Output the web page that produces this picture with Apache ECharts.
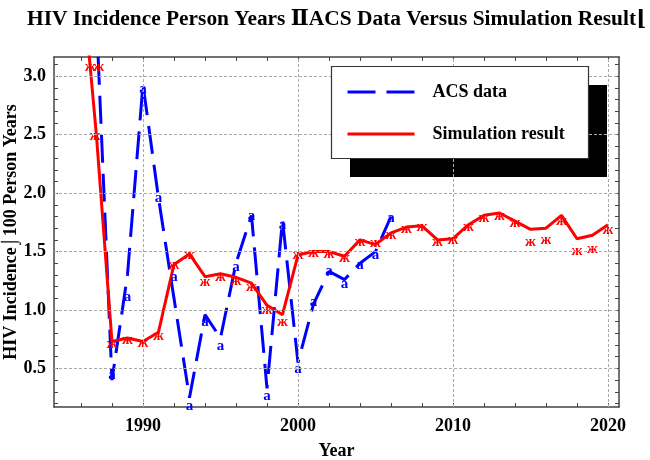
<!DOCTYPE html>
<html>
<head>
<meta charset="utf-8">
<script src="https://cdn.jsdelivr.net/npm/echarts@6/dist/echarts.min.js"></script>
<style>
  html, body { margin: 0; padding: 0; background: #fff; }
  #chart { width: 650px; height: 460px; }
</style>
</head>
<body>
<div id="chart"></div>
<script>
// ACS data (dashed blue line, points per year; 1987 lies above the plot range)
const acsYears = [1987, 1988, 1989, 1990, 1991, 1992, 1993, 1994, 1995, 1996, 1997, 1998, 1999, 2000, 2001, 2002, 2003, 2004, 2005, 2006];
const acsLine = [3.5, 0.40, 1.30, 2.93, 1.96, 1.10, 0.25, 0.96, 0.76, 1.40, 1.81, 0.33, 1.77, 0.55, 1.05, 1.33, 1.26, 1.40, 1.50, 1.80];

// "a" markers of the ACS data
const acsMarkYears = [1988, 1989, 1990, 1991, 1992, 1993, 1994, 1995, 1996, 1997, 1998, 1999, 2000, 2001, 2002, 2003, 2004, 2005, 2006];
const acsMarkValues = [0.44, 1.11, 2.89, 1.96, 1.285, 0.18, 0.90, 0.69, 1.37, 1.80, 0.26, 1.73, 0.49, 1.07, 1.33, 1.22, 1.385, 1.47, 1.79];

// simulation result (red line)
const simYears = [1986, 1987, 1988, 1989, 1990, 1991, 1992, 1993, 1994, 1995, 1996, 1997, 1998, 1999, 2000, 2001, 2002, 2003, 2004, 2005, 2006, 2007, 2008, 2009, 2010, 2011, 2012, 2013, 2014, 2015, 2016, 2017, 2018, 2019, 2020];
const simLine = [3.95, 2.49, 0.73, 0.76, 0.73, 0.81, 1.39, 1.48, 1.285, 1.31, 1.28, 1.23, 1.04, 0.96, 1.47, 1.50, 1.50, 1.46, 1.60, 1.56, 1.66, 1.71, 1.72, 1.60, 1.61, 1.73, 1.81, 1.83, 1.76, 1.69, 1.70, 1.81, 1.61, 1.64, 1.73];

// "ж" markers of the simulation
const simMarkYears = [1986.6, 1987.15, 1986.9, 1988, 1989, 1990, 1991, 1992, 1993, 1994, 1995, 1996, 1997, 1998, 1999, 2000, 2001, 2002, 2003, 2004, 2005, 2006, 2007, 2008, 2009, 2010, 2011, 2012, 2013, 2014, 2015, 2016, 2017, 2018, 2019, 2020];
const simMarkValues = [3.08, 3.08, 2.49, 0.71, 0.745, 0.72, 0.78, 1.38, 1.47, 1.24, 1.28, 1.25, 1.20, 1.00, 0.90, 1.47, 1.486, 1.48, 1.44, 1.585, 1.57, 1.64, 1.69, 1.71, 1.585, 1.595, 1.71, 1.785, 1.80, 1.745, 1.585, 1.60, 1.76, 1.50, 1.52, 1.68];

// axes
const xLabels = [1990, 2000, 2010, 2020];
const xTicks = [1986, 1988, 1990, 1992, 1994, 1996, 1998, 2000, 2002, 2004, 2006, 2008, 2010, 2012, 2014, 2016, 2018, 2020];
const yLabels = [0.5, 1.0, 1.5, 2.0, 2.5, 3.0];
const yTicks = [0.2, 0.3, 0.4, 0.5, 0.6, 0.7, 0.8, 0.9, 1.0, 1.1, 1.2, 1.3, 1.4, 1.5, 1.6, 1.7, 1.8, 1.9, 2.0,
                2.1, 2.2, 2.3, 2.4, 2.5, 2.6, 2.7, 2.8, 2.9, 3.0, 3.1];

const SERIF = '"Liberation Serif", "DejaVu Serif", serif';
const FRAME = '#444';
const BLUE = '#0000ff';
const RED = '#ff0000';
const ACS_DASH = [28, 11];

const zip = (xs, ys) => xs.map((x, i) => [x, ys[i]]);

// text marker drawn at a data point
function glyphMarker (glyph, color) {
  return function (params, api) {
    const p = api.coord([api.value(0), api.value(1)]);
    return {
      type: 'text',
      x: p[0],
      y: p[1],
      style: {
        text: glyph,
        fill: color,
        font: 'bold 15px ' + SERIF,
        align: 'center',
        verticalAlign: 'middle'
      }
    };
  };
}

function frameAxis (pos, isX, ticks) {
  return {
    type: 'value',
    position: pos,
    min: isX ? 1984.26 : 0.17,
    max: isX ? 2020.71 : 3.165,
    axisLine: { show: true, onZero: false, lineStyle: { color: FRAME, width: 1.5 } },
    axisTick: { show: true, inside: true, length: 4, customValues: ticks, lineStyle: { color: FRAME, width: 1 } },
    axisLabel: { show: false },
    splitLine: { show: false }
  };
}

const chart = echarts.init(document.getElementById('chart'));

const xMain = frameAxis('bottom', true, xTicks);
xMain.axisLabel = {
  show: true, customValues: xLabels, margin: 10,
  formatter: (v) => String(v),
  color: '#000', fontSize: 18, fontWeight: 'bold', fontFamily: SERIF
};
xMain.name = 'Year';
xMain.nameLocation = 'middle';
xMain.nameGap = 35;
xMain.nameMoveOverlap = false;
xMain.nameTextStyle = { color: '#000', fontSize: 18, fontWeight: 'bold', fontFamily: SERIF };

const yMain = frameAxis('left', false, yTicks);
yMain.axisLabel = {
  show: true, customValues: yLabels, margin: 8,
  formatter: (v) => v.toFixed(1),
  color: '#000', fontSize: 18, fontWeight: 'bold', fontFamily: SERIF
};
yMain.name = 'HIV Incidence\u2321100 Person Years';
yMain.nameLocation = 'middle';
yMain.nameGap = 34;
yMain.nameMoveOverlap = false;
yMain.nameTextStyle = { color: '#000', fontSize: 18, fontWeight: 'bold', fontFamily: SERIF };

chart.setOption({
  animation: false,
  backgroundColor: '#fff',
  title: {
    text: 'HIV Incidence Person Years \u2161ACS Data Versus Simulation Result\u230A',
    left: 27,
    top: 9,
    padding: 0,
    textStyle: { color: '#000', fontSize: 21.4, fontWeight: 'bold', fontFamily: SERIF }
  },
  grid: { left: 54, right: 31, top: 57, bottom: 53, outerBoundsMode: 'none', containLabel: false },
  xAxis: [xMain, frameAxis('top', true, xTicks)],
  yAxis: [yMain, frameAxis('right', false, yTicks)],
  legend: {
    data: [
      { name: 'ACS data', lineStyle: { color: BLUE, width: 3, type: ACS_DASH } },
      { name: 'Simulation result', lineStyle: { color: RED, width: 3 } }
    ],
    orient: 'vertical',
    left: 346,
    top: 83,
    padding: 0,
    itemWidth: 67,
    itemHeight: 18,
    itemGap: 24,
    z: 10,
    itemStyle: { opacity: 0 },
    textStyle: { color: '#000', fontSize: 18, fontWeight: 'bold', fontFamily: SERIF, padding: [0, 0, 0, 13] }
  },
  graphic: {
    elements: [
      { type: 'rect', z: 5, shape: { x: 350, y: 85, width: 257, height: 92 }, style: { fill: '#000' } },
      { type: 'rect', z: 6, shape: { x: 331.5, y: 66.5, width: 257, height: 92 }, style: { fill: '#fff', stroke: '#333', lineWidth: 1.2 } }
    ]
  },
  series: [
    {
      name: 'grid',
      type: 'line',
      data: [],
      z: 1,
      markLine: {
        silent: true,
        symbol: ['none', 'none'],
        label: { show: false },
        lineStyle: { color: '#aaa', width: 1, type: [3, 2] },
        data: xLabels.map((x) => ({ xAxis: x })).concat(yLabels.map((y) => ({ yAxis: y })))
      }
    },
    {
      name: 'ACS data',
      type: 'line',
      data: zip(acsYears, acsLine),
      symbol: 'none',
      z: 3,
      lineStyle: { color: BLUE, width: 3, type: ACS_DASH },
      itemStyle: { color: BLUE }
    },
    {
      name: 'Simulation result',
      type: 'line',
      data: zip(simYears, simLine),
      symbol: 'none',
      z: 3,
      lineStyle: { color: RED, width: 3 },
      itemStyle: { color: RED }
    },
    {
      name: 'acs markers',
      type: 'custom',
      z: 4,
      data: zip(acsMarkYears, acsMarkValues),
      renderItem: glyphMarker('a', BLUE)
    },
    {
      name: 'sim markers',
      type: 'custom',
      z: 4,
      data: zip(simMarkYears, simMarkValues),
      renderItem: glyphMarker('\u0436', RED)
    }
  ]
});
</script>
</body>
</html>
